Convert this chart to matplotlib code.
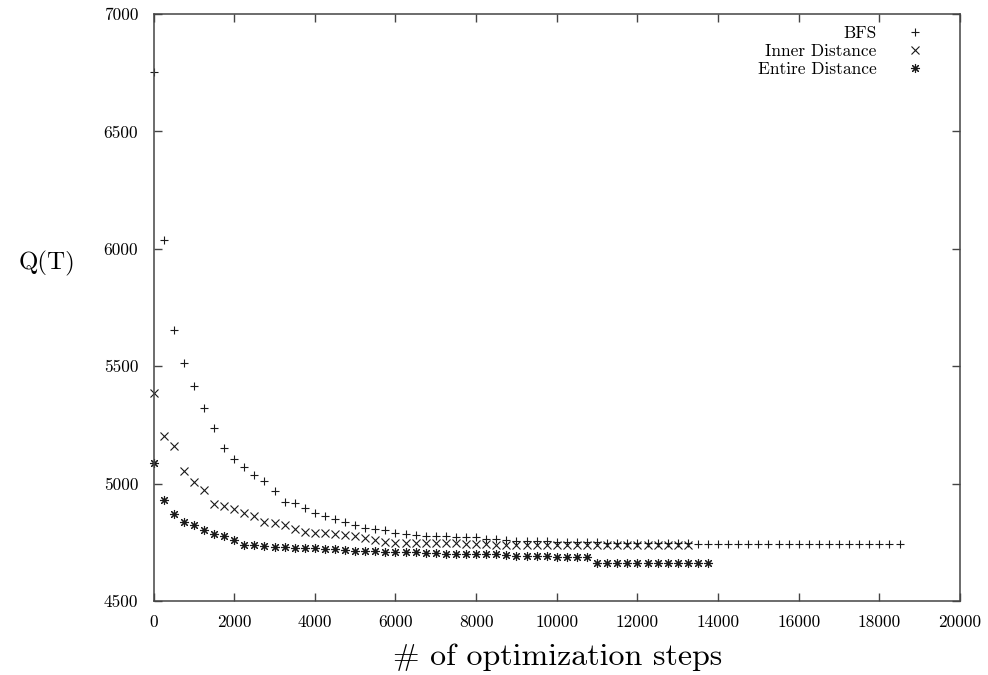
import numpy as np
import matplotlib
matplotlib.use("Agg")
import matplotlib.pyplot as plt

plt.rcParams["font.family"] = ["cmr10", "DejaVu Serif"]
plt.rcParams["mathtext.fontset"] = "cm"
plt.rcParams["axes.formatter.use_mathtext"] = True

# Sampling interval of the optimizer log (steps between recorded values)
step_interval = 250

bfs_q = [
    6753, 6036, 5653, 5512, 5415, 5322, 5236, 5150, 5105, 5070,
    5037, 5010, 4970, 4923, 4916, 4895, 4873, 4860, 4848, 4838,
    4823, 4810, 4806, 4803, 4791, 4784, 4783, 4779, 4776, 4775,
    4773, 4772, 4771, 4766, 4762, 4759, 4757, 4756, 4755, 4754,
    4753, 4752, 4751, 4750, 4750, 4749, 4749, 4748, 4748, 4747,
    4747, 4746, 4746, 4745, 4744, 4744, 4744, 4744, 4744, 4744,
    4744, 4744, 4744, 4744, 4744, 4744, 4744, 4744, 4744, 4744,
    4744, 4744, 4744, 4744, 4744,
]

inner_q = [
    5386, 5201, 5159, 5054, 5007, 4971, 4913, 4903, 4891, 4874,
    4864, 4838, 4832, 4824, 4807, 4795, 4789, 4788, 4785, 4782,
    4775, 4768, 4758, 4751, 4749, 4749, 4749, 4748, 4745, 4745,
    4745, 4743, 4743, 4742, 4740, 4740, 4740, 4740, 4740, 4740,
    4739, 4739, 4739, 4739, 4739, 4739, 4739, 4739, 4739, 4739,
    4738, 4738, 4738, 4738,
]

entire_q = [
    5086, 4931, 4872, 4836, 4822, 4803, 4787, 4779, 4760, 4740,
    4738, 4734, 4731, 4730, 4727, 4727, 4726, 4723, 4723, 4717,
    4714, 4714, 4713, 4708, 4708, 4708, 4708, 4705, 4704, 4701,
    4701, 4700, 4700, 4700, 4700, 4697, 4693, 4692, 4691, 4690,
    4689, 4689, 4688, 4688, 4663, 4663, 4663, 4663, 4663, 4663,
    4663, 4663, 4663, 4663, 4663, 4663,
]

x_ticks = [0, 2000, 4000, 6000, 8000, 10000, 12000, 14000, 16000, 18000, 20000]
y_ticks = [4500, 5000, 5500, 6000, 6500, 7000]


def steps_for(values):
    return step_interval * np.arange(len(values))


fig = plt.figure(figsize=(9.88, 6.75), dpi=100)
ax = fig.add_axes([0.1554, 0.1096, 0.8163, 0.8697])

ink = "#1a1a1a"
common = dict(ls="none", color=ink, clip_on=False, mew=0.8)
ax.plot(steps_for(bfs_q), bfs_q, marker="+", ms=6, label="BFS", **common)
ax.plot(steps_for(inner_q), inner_q, marker="x", ms=5.5, label="Inner Distance", **common)
ax.plot(steps_for(entire_q), entire_q, marker=(8, 2, 0), ms=6.5, label="Entire Distance", **common)

ax.set_xlim(0, 20000)
ax.set_ylim(4500, 7000)
ax.set_xticks(x_ticks)
ax.set_yticks(y_ticks)
ax.set_xticklabels([str(v) for v in x_ticks])
ax.set_yticklabels([str(v) for v in y_ticks])

for side in ax.spines.values():
    side.set_color("#444444")
    side.set_linewidth(1.1)
ax.tick_params(axis="both", direction="in", length=6, width=1.0, color="#444444",
               labelsize=12.5, top=True, right=True)
ax.tick_params(axis="x", pad=10)
ax.tick_params(axis="y", pad=11)

fig.text(47 / 988, 1 - 263 / 675, "Q(T)", fontsize=18, ha="center", va="center")
fig.text(558 / 988, 1 - 657 / 675, "# of optimization steps", fontsize=23,
         ha="center", va="center")

ax.legend(loc="upper right", bbox_to_anchor=(0.9653, 0.980), markerfirst=False,
          frameon=False, fontsize=12.5, handlelength=2.0, handletextpad=1.2,
          borderpad=0, borderaxespad=0, labelspacing=0.15)

fig.savefig("out.png", dpi=100)
